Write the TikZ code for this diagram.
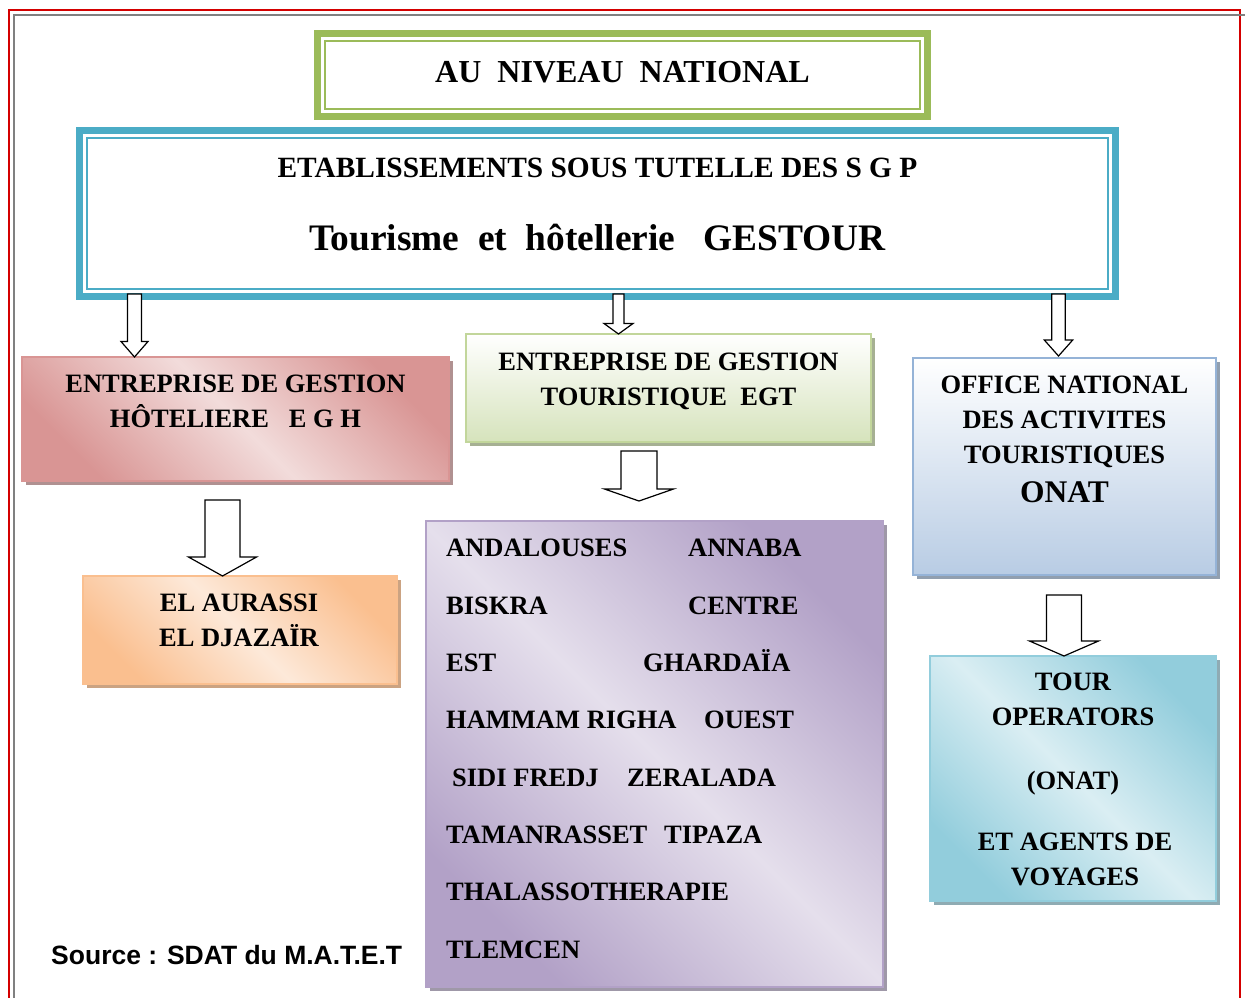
\documentclass[tikz,border=0pt]{standalone}
\usepackage{fontspec}
\setmainfont{Liberation Serif}
\newfontfamily\arialfont{Liberation Sans}
\usepackage{tikz}
\usetikzlibrary{positioning}
\usetikzlibrary{calc}
\usetikzlibrary{shadows}

\definecolor{pagered}{HTML}{D40000}
\definecolor{pagegray}{HTML}{808080}
\definecolor{natgreen}{HTML}{9BBB59}
\definecolor{gesblue}{HTML}{4BACC6}
\definecolor{eghdark}{HTML}{D99594}
\definecolor{eghlight}{HTML}{F2DCDB}
\definecolor{eghdeep}{HTML}{622423}
\definecolor{egtline}{HTML}{C2D69B}
\definecolor{egtfill}{HTML}{D6E3BC}
\definecolor{egtdeep}{HTML}{4E6128}
\definecolor{onatline}{HTML}{95B3D7}
\definecolor{onatfill}{HTML}{B8CCE4}
\definecolor{onatdeep}{HTML}{243F60}
\definecolor{hotdark}{HTML}{FABF8F}
\definecolor{hotlight}{HTML}{FDE9D9}
\definecolor{hotdeep}{HTML}{974806}
\definecolor{listdark}{HTML}{B2A1C7}
\definecolor{listlight}{HTML}{E5DFEC}
\definecolor{listdeep}{HTML}{3F3151}
\definecolor{tourdark}{HTML}{92CDDC}
\definecolor{tourlight}{HTML}{DAEEF3}
\definecolor{tourdeep}{HTML}{205867}

\tikzset{
  titlebox/.style={draw=#1, line width=7pt, inner sep=0pt, outer sep=0pt},
  card/.style={draw=#1, line width=2pt, inner sep=0pt, outer sep=0pt},
  diagfill/.style 2 args={top color=#1, bottom color=#1, middle color=#2, shading angle=-45},
  vertfill/.style={top color=white, bottom color=#1},
  cast/.style={drop shadow={shadow xshift=4pt, shadow yshift=-4pt, fill=#1, opacity=.5}},
  boxtext/.style={font=\bfseries\fontsize{26.5}{35}\selectfont, align=center, inner sep=0pt},
  item/.style={font=\bfseries\fontsize{26.5}{35}\selectfont, anchor=base west, inner sep=0pt},
  %hollow arrow pointing down: shaft half width, head half width, head length
  downarrow/.style n args={3}{draw=black, fill=white, line width=1.2pt, to path={
    let \p1=(\tikztostart), \p2=(\tikztotarget) in
    (\x1-#1,\y1) -- (\x1+#1,\y1) -- (\x1+#1,\y2+#3) -- (\x1+#2,\y2+#3)
    -- (\x1,\y2) -- (\x1-#2,\y2+#3) -- (\x1-#1,\y2+#3) -- cycle}}
}

\begin{document}
\begin{tikzpicture}[x=1pt, y=-1pt]
\useasboundingbox (0,0) rectangle (1245,997);

%page border
\draw[pagered, line width=2pt] (8.5,1000) -- (8.5,10) -- (1240,10) -- (1240,1000);
\draw[pagegray, line width=2pt] (13.7,1000) -- (13.7,14.5) -- (1250,14.5);

%top boxes
\node[titlebox=natgreen, minimum width=610pt, minimum height=83pt] (national) at (622.5,75) {};
\draw[natgreen, line width=2pt] ([xshift=7.5pt,yshift=-7.5pt]national.north west) rectangle ([xshift=-7.5pt,yshift=7.5pt]national.south east);
\node[titlebox=gesblue, minimum width=1036pt, minimum height=166pt] (gestour) at (597.5,213.5) {};
\draw[gesblue, line width=2pt] ([xshift=7.5pt,yshift=-7.5pt]gestour.north west) rectangle ([xshift=-7.5pt,yshift=7.5pt]gestour.south east);

%enterprises
\node[card=eghdark, diagfill={eghdark}{eghlight}, cast=eghdeep, minimum width=427pt, minimum height=124pt] (egh) at (235.5,419) {};
\node[card=egtline, vertfill=egtfill, cast=egtdeep, minimum width=405pt, minimum height=108pt] (egt) at (668.5,388) {};
\node[card=onatline, vertfill=onatfill, cast=onatdeep, minimum width=303pt, minimum height=217pt] (onat) at (1064.5,466.5) {};
\node[card=hotdark, diagfill={hotdark}{hotlight}, cast=hotdeep, minimum width=314pt, minimum height=108pt] (hotels) at (240,630) {};
\node[card=listdark, diagfill={listdark}{listlight}, cast=listdeep, minimum width=457pt, minimum height=466pt] (units) at (654.5,754) {};
\node[card=tourdark, diagfill={tourdark}{tourlight}, cast=tourdeep, minimum width=286pt, minimum height=245pt] (tour) at (1073,778.5) {};

%arrows
\draw[downarrow={7pt}{13.5pt}{15.5pt}] ([xshift=-463pt,yshift=2.5pt]gestour.south) to (egh.north);
\draw[downarrow={5.5pt}{14.5pt}{10.5pt}] ([xshift=21pt,yshift=2.5pt]gestour.south) to (egt.north);
\draw[downarrow={6.7pt}{14.2pt}{16pt}] ([xshift=461pt,yshift=2.5pt]gestour.south) to ([yshift=2pt]onat.north);
\draw[downarrow={17.5pt}{34pt}{19pt}] ([xshift=-13pt,yshift=-19pt]egh.south) to (hotels.north);
\draw[downarrow={18pt}{34.5pt}{12pt}] ([xshift=-29.5pt,yshift=-9pt]egt.south) to ([yshift=20pt]units.north);
\draw[downarrow={17.5pt}{34.5pt}{15pt}] ([xshift=-0.5pt,yshift=-20pt]onat.south) to (tour.north);

%texts
\node[inner sep=0pt, anchor=base, font=\bfseries\fontsize{32}{38}\selectfont] (nattext) at (622.5,82.6) {AU~ NIVEAU~ NATIONAL};
\node[inner sep=0pt, anchor=base, font=\bfseries\fontsize{29.4}{34}\selectfont] (etabtext) at (597.5,177) {ETABLISSEMENTS SOUS TUTELLE DES S G P};
\node[inner sep=0pt, anchor=base, font=\bfseries\fontsize{37.4}{44}\selectfont] (gestext) at (597.5,250) {Tourisme~ et~ hôtellerie~~ GESTOUR};
\node[boxtext] (eghtext) at (235.5,401) {ENTREPRISE DE GESTION\\HÔTELIERE~~ E G H};
\node[boxtext] (egttext) at (668.5,381) {ENTREPRISE DE GESTION\\TOURISTIQUE~ EGT};
\node[boxtext] (onattext) at (1064.5,421.5) {OFFICE NATIONAL\\DES ACTIVITES\\TOURISTIQUES};
\node[inner sep=0pt, anchor=base, font=\bfseries\fontsize{31.5}{38}\selectfont] (onatname) at (1064.5,502.4) {ONAT};
\node[boxtext] (hoteltext) at (239,620.5) {EL AURASSI\\EL DJAZAÏR};
\node[boxtext] (tourtext) at (1073,699.5) {TOUR\\OPERATORS};
\node[boxtext, anchor=base] (tourpar) at (1073,789) {(ONAT)};
\node[boxtext] (agenttext) at (1075,859) {ET AGENTS DE\\VOYAGES};

%list of units
\foreach \i/\yb/\xl/\wa/\xr/\wb in {1/556/446/ANDALOUSES/688/ANNABA,
  2/614/446/BISKRA/688/CENTRE,
  3/671/446/EST/643/GHARDAÏA,
  4/728/446/HAMMAM RIGHA/704/OUEST,
  5/786/452/SIDI FREDJ/627/ZERALADA,
  6/843/446/TAMANRASSET/664/TIPAZA}
{
  \node[item] (west\i) at (\xl,\yb) {\wa};
  \node[item] (east\i) at (\xr,\yb) {\wb};
}
\node[item] (west7) at (446,900) {THALASSOTHERAPIE};
\node[item] (west8) at (446,958) {TLEMCEN};

%source
\node[inner sep=0pt, anchor=base west, font=\arialfont\bfseries\fontsize{26.5}{32}\selectfont] (source) at (51,964.5) {Source : SDAT du M.A.T.E.T};
\end{tikzpicture}
\end{document}
